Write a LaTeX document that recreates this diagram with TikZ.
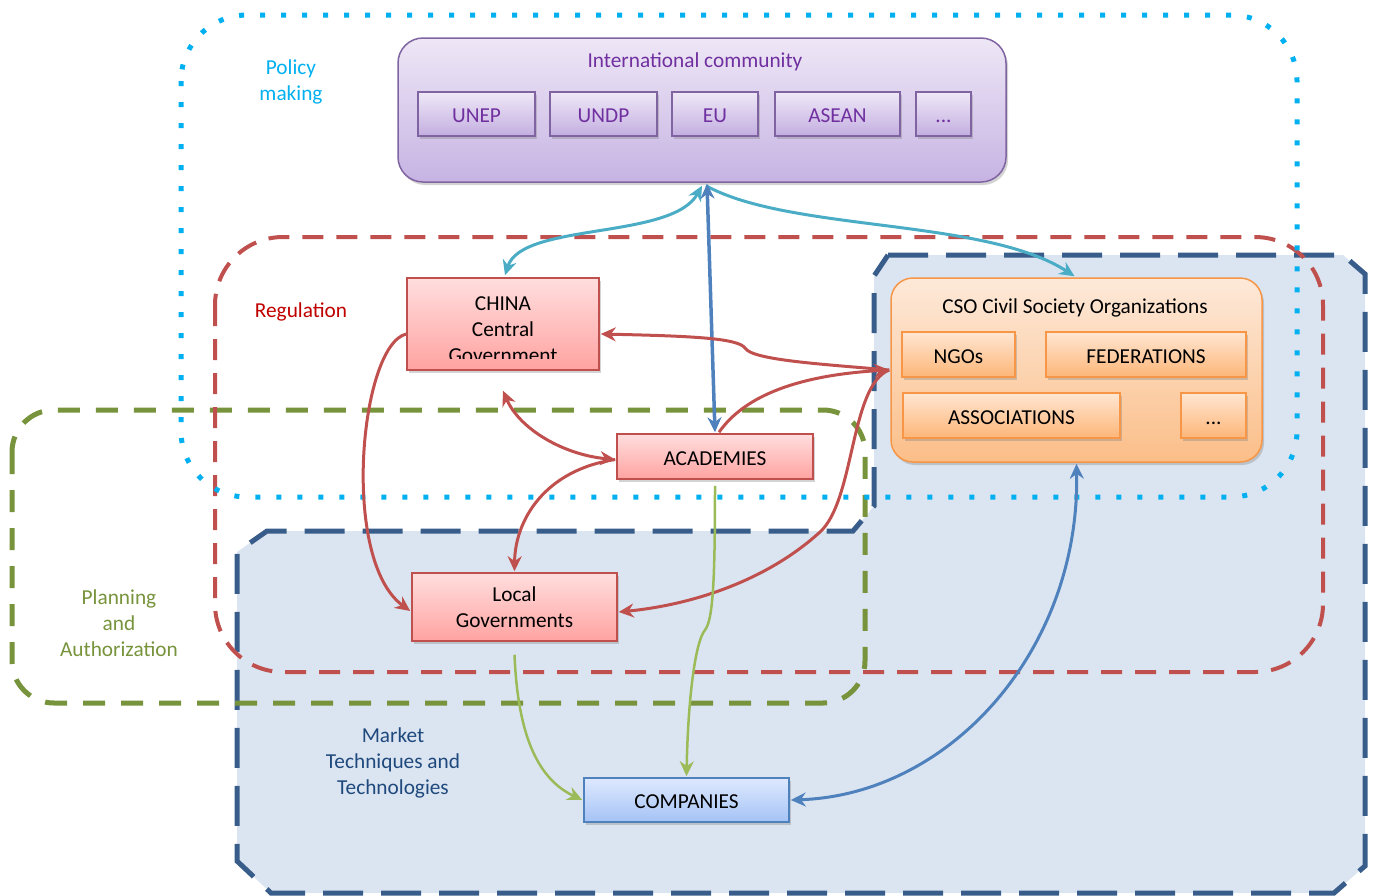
\documentclass[tikz,border=0pt]{standalone}
\usepackage{fontspec}
\setmainfont{Carlito}
\usetikzlibrary{arrows.meta,shadows,calc}
\definecolor{polc}{HTML}{00B0F0}
\definecolor{regc}{HTML}{C0504D}
\definecolor{regt}{HTML}{C00000}
\definecolor{planc}{HTML}{77933C}
\definecolor{mktc}{HTML}{385D8A}
\definecolor{mktt}{HTML}{1F497D}
\definecolor{mktfill}{HTML}{DBE5F1}
\definecolor{arrcyan}{HTML}{4BACC6}
\definecolor{arrblue}{HTML}{4F81BD}
\definecolor{arrred}{HTML}{C0504D}
\definecolor{arrgreen}{HTML}{9BBB59}
\definecolor{purb}{HTML}{8064A2}
\definecolor{purt}{HTML}{7030A0}
\definecolor{purtop}{HTML}{EEE7F6}
\definecolor{purbot}{HTML}{C6B3E3}
\definecolor{subtop}{HTML}{EFE8F7}
\definecolor{subbot}{HTML}{C3AEE0}
\definecolor{redtop}{HTML}{FFDEDE}
\definecolor{redbot}{HTML}{FFA3A1}
\definecolor{bluetop}{HTML}{DEE9FF}
\definecolor{bluebot}{HTML}{A5C3F5}
\definecolor{orab}{HTML}{F79646}
\definecolor{oratop}{HTML}{FDE9D9}
\definecolor{orabot}{HTML}{FBBE88}
\definecolor{subotop}{HTML}{FFE6D2}
\definecolor{subobot}{HTML}{FDB678}
\begin{document}
\begin{tikzpicture}[x=1pt,y=-1pt,
  every node/.style={font=\fontsize{21.3}{26}\selectfont},
  shad/.style={drop shadow={opacity=0.35,shadow xshift=2pt,shadow yshift=-3pt}},
  lowtext/.style={text height=17.5pt,text depth=0pt},
  polreg/.style={draw=polc,line width=5pt,dash pattern=on 5pt off 16pt},
  regreg/.style={draw=regc,line width=4pt,dash pattern=on 21pt off 13pt},
  planreg/.style={draw=planc,line width=5pt,dash pattern=on 22pt off 16pt},
  mktreg/.style={draw=mktc,line width=5pt,dash pattern=on 40pt off 18pt},
  purbox/.style={draw=purb,line width=1.5pt,top color=purtop,bottom color=purbot,rounded corners=25pt,shad,inner sep=0pt},
  subbox/.style={draw=purb,line width=1.5pt,top color=subtop,bottom color=subbot,text=purt,shad,inner sep=0pt,minimum height=44pt,lowtext},
  redbox/.style={draw=regc,line width=1.5pt,top color=redtop,bottom color=redbot,shad,inner sep=0pt,align=center},
  bluebox/.style={draw=arrblue,line width=1.5pt,top color=bluetop,bottom color=bluebot,shad,inner sep=0pt,lowtext},
  orabox/.style={draw=orab,line width=1.5pt,top color=oratop,bottom color=orabot,rounded corners=22pt,shad,inner sep=0pt},
  suborabox/.style={draw=orab,line width=1.5pt,top color=subotop,bottom color=subobot,shad,inner sep=0pt,minimum height=45pt,lowtext},
  >={Stealth[length=15pt,width=14pt]},
  conn/.style={line width=3pt},
]
\useasboundingbox (0,0) rectangle (1377,895);
% Market region fill
\fill[mktfill] (888,255) -- (1343,255) -- (1365,274) -- (1365,866) -- (1334,893) -- (271,893) -- (237,861) -- (237,552) -- (267,531) -- (853,531) -- (874,506) -- (874,276) -- cycle;
% region outlines
\draw[mktreg] (888,255) -- (1343,255) -- (1365,274) -- (1365,866) -- (1334,893) -- (271,893) -- (237,861) -- (237,552) -- (267,531) -- (853,531) -- (874,506) -- (874,276) -- cycle;
\draw[planreg,rounded corners=42pt] (12,410) rectangle (865,703);
\draw[regreg,rounded corners=68pt] (215,237) rectangle (1323,672);
\draw[polreg,rounded corners=66pt] (181,15) rectangle (1297,497);
% region labels
\node[text=polc,align=center] (lpol) at (291,82) {Policy\\making};
\node[text=regt] (lreg) at (301,312) {Regulation};
\node[text=planc,align=center] (lplan) at (119,623) {Planning\\and\\Authorization};
\node[text=mktt,align=center] (lmkt) at (393,763) {Market\\Techniques and\\Technologies};
% International community
\node[purbox,minimum width=608pt,minimum height=144pt] (intl) at (702,110) {};
\node[text=purt] (intlt) at (695,62) {International community};
\node[subbox,minimum width=117pt] (unep) at (476.5,114) {UNEP};
\node[subbox,minimum width=107pt] (undp) at (603.5,114) {UNDP};
\node[subbox,minimum width=86pt] (eu) at (715,114) {EU};
\node[subbox,minimum width=125pt] (asean) at (837.5,114) {ASEAN};
\node[subbox,minimum width=55pt] (idots) at (943.5,114) {...};
% CSO
\node[orabox,minimum width=371pt,minimum height=184pt] (cso) at (1076.5,370) {};
\node (csot) at (1075,308) {CSO Civil Society Organizations};
\node[suborabox,minimum width=113pt] (ngo) at (958.5,354.5) {NGOs};
\node[suborabox,minimum width=200pt] (fed) at (1146,354.5) {FEDERATIONS};
\node[suborabox,minimum width=217pt] (assoc) at (1011.5,415.5) {ASSOCIATIONS};
\node[suborabox,minimum width=65pt] (cdots) at (1213.5,415.5) {...};
% red boxes
\node[redbox,minimum width=192pt,minimum height=92pt] (china) at (503,324) {};
\begin{scope}
\clip (408,279) rectangle (598,358);
\node[align=center] (chinat) at (503,330) {CHINA\\Central\\Government};
\end{scope}
\node[redbox,lowtext,minimum width=196pt,minimum height=45pt] (acad) at (715,456.5) {ACADEMIES};
\node[redbox,minimum width=205pt,minimum height=68pt] (local) at (514.5,607) {Local\\Governments};
\node[bluebox,minimum width=205pt,minimum height=44pt] (comp) at (686.5,800) {COMPANIES};
% cyan arrows
\draw[conn,draw=arrcyan,<->] ($(intl.south)+(0,3)$) .. controls (672,240) and (522,222) .. ($(china.north)+(2,-2)$);
\draw[conn,draw=arrcyan,->] ($(intl.south)+(4,3)$) .. controls (790,232) and (985,218) .. ($(cso.north)+(-2,-1)$);
% blue vertical
\draw[conn,line width=3.5pt,draw=arrblue,<->] ($(intl.south)+(5,1)$) -- ($(acad.north)+(0,-1)$);
% red arrows
\draw[conn,draw=arrred,<-] ($(china.east)+(1,10)$) .. controls (690,336) and (738,338) .. (745,348) .. controls (752,360) and (820,364) .. ($(cso.west)+(-1,0)$);
\draw[conn,draw=arrred,->] ($(acad.north)+(4,-1)$) .. controls (745,395) and (800,375) .. ($(cso.west)+(-1,0)$);
\draw[conn,draw=arrred,->] ($(cso.west)+(-1,0)$) .. controls (850,385) and (855,500) .. (820,532) .. controls (765,582) and (690,605) .. ($(local.east)+(1,5)$);
\draw[conn,draw=arrred,<->] ($(china.south)+(0,20)$) .. controls (520,430) and (565,455) .. ($(acad.west)+(-1,3)$);
\draw[conn,draw=arrred,->] ($(acad.west)+(-1,3)$) .. controls (545,470) and (515,520) .. ($(local.north)+(0,-1)$);
\draw[conn,draw=arrred,->] ($(china.west)+(0,10)$) .. controls (360,345) and (340,560) .. ($(local.west)+(-1,4)$);
% green arrows
\draw[conn,line width=2.5pt,draw=arrgreen,->] ($(local.south)+(0,13)$) .. controls (518,740) and (540,780) .. ($(comp.west)+(-1,0)$);
\draw[conn,line width=2.5pt,draw=arrgreen,->] ($(acad.south)+(0,6)$) .. controls (715,580) and (713,620) .. (705,630) .. controls (695,642) and (688,700) .. ($(comp.north)+(0,-1)$);
% blue CSO-companies
\draw[conn,draw=arrblue,<->] ($(cso.south)+(0,1)$) .. controls (1080,650) and (950,795) .. ($(comp.east)+(1,0)$);
\end{tikzpicture}
\end{document}
